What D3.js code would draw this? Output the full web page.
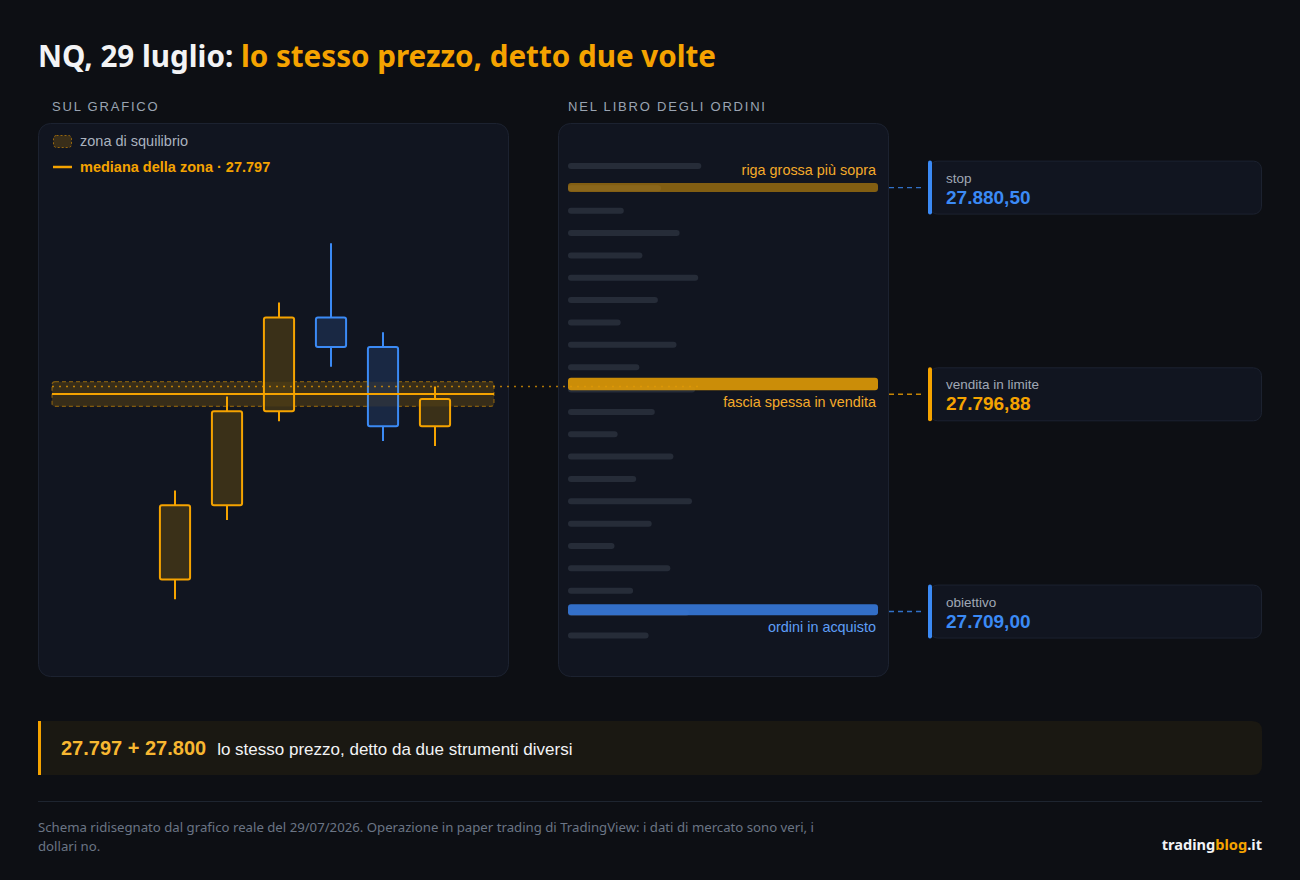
<!DOCTYPE html>
<html>
<head>
<meta charset="utf-8">
<script src="https://cdn.jsdelivr.net/npm/d3@7"></script>
<style>
  html, body { margin: 0; padding: 0; background: #0d0f14; }
  svg { display: block; }
</style>
</head>
<body>
<svg id="chart" width="1300" height="880"></svg>
<script>
// candles of the session (open, high, low, close)
var candleOpen  = [27722, 27752, 27790, 27828, 27816, 27784];
var candleHigh  = [27758, 27796, 27834, 27858, 27822, 27800];
var candleLow   = [27714, 27746, 27786, 27808, 27778, 27776];
var candleClose = [27752, 27790, 27828, 27816, 27784, 27795];
var candleColor = ["up", "up", "up", "down", "down", "up"];

// imbalance zone
var zoneLow = 27792, zoneHigh = 27802, zoneMedian = 27797;
var bookLevel = 27800;

// order book rows (lots), top to bottom
var bookSizes = [43, 30, 18, 36, 24, 42, 29, 17, 35, 23, 41, 28, 16, 34, 22, 40, 27, 15, 33, 21, 39, 26];

// big bands in the book
var bandLabels = ["riga grossa più sopra", "fascia spessa in vendita", "ordini in acquisto"];
var bandLow    = [27878.7, 27798.5, 27707.5];
var bandHigh   = [27882.4, 27803.6, 27712];
var bandKind   = ["stopband", "sell", "buy"];

// order cards
var cardLabels = ["stop", "vendita in limite", "obiettivo"];
var cardPrices = [27880.50, 27796.88, 27709.00];
var cardKind   = ["blue", "amber", "blue"];

var AMBER = "#f5a300", BLUE = "#3b8af5";

var svg = d3.select("#chart");
var W = 1300, H = 880;

svg.append("rect").attr("width", W).attr("height", H).attr("fill", "#0d0f14");

// shared price scale (chart and book are drawn on the same ladder)
var y = d3.scaleLinear().domain([27700, 27900]).range([633.8, 139.4]);

var itFmt = d3.formatLocale({decimal: ",", thousands: ".", grouping: [3], currency: ["", ""]});
var fmtInt = itFmt.format(",.0f"), fmtPrice = itFmt.format(",.2f");

// title
var title = svg.append("text").attr("x", 38).attr("y", 67)
    .style("font-family", "'Noto Sans', sans-serif").style("font-weight", 700).style("font-size", "29.6px");
title.append("tspan").attr("fill", "#f2f3f5").text("NQ, 29 luglio: ");
title.append("tspan").attr("fill", AMBER).text("lo stesso prezzo, detto due volte");

// section headings
function heading(x, t) {
  svg.append("text").attr("x", x).attr("y", 111)
    .attr("fill", "#9aa4b2").style("font-family", "'Liberation Sans', Arial, sans-serif")
    .style("font-size", "13px").style("letter-spacing", "1.8px").text(t);
}
heading(52, "SUL GRAFICO");
heading(568, "NEL LIBRO DEGLI ORDINI");

// panels
function panel(x, w) {
  svg.append("rect").attr("x", x + 0.5).attr("y", 123.5).attr("width", w).attr("height", 553)
    .attr("rx", 12).attr("fill", "#111520").attr("stroke", "#1c2230");
}
panel(38, 470);
panel(558, 330);

var sans = "'Liberation Sans', Arial, sans-serif";

// legend
svg.append("rect").attr("x", 53.5).attr("y", 135.5).attr("width", 18).attr("height", 12).attr("rx", 3)
  .attr("fill", AMBER).attr("fill-opacity", 0.18)
  .attr("stroke", AMBER).attr("stroke-opacity", 0.55).attr("stroke-dasharray", "2,2");
svg.append("text").attr("x", 80).attr("y", 146).attr("fill", "#aab2bf")
  .style("font-family", sans).style("font-size", "14.5px").text("zona di squilibrio");
svg.append("line").attr("x1", 53).attr("x2", 72).attr("y1", 167).attr("y2", 167)
  .attr("stroke", AMBER).attr("stroke-width", 2.5);
svg.append("text").attr("x", 80).attr("y", 172).attr("fill", AMBER)
  .style("font-family", sans).style("font-size", "14.5px").style("font-weight", 700)
  .text("mediana della zona · " + fmtInt(zoneMedian));

// candle x scale
var x = d3.scaleBand().domain(d3.range(candleOpen.length)).range([149, 461]).paddingInner(0.42).paddingOuter(0.21);

// zone
var zoneX0 = 52, zoneX1 = 494;
svg.append("rect").attr("x", zoneX0).attr("y", y(zoneHigh)).attr("width", zoneX1 - zoneX0)
  .attr("height", y(zoneLow) - y(zoneHigh)).attr("rx", 3)
  .attr("fill", AMBER).attr("fill-opacity", 0.1)
  .attr("stroke", AMBER).attr("stroke-opacity", 0.45).attr("stroke-width", 1.2).attr("stroke-dasharray", "4,3");

// candles
var cg = svg.append("g");
var candles = cg.selectAll("g").data(candleOpen).enter().append("g");
candles.append("line")
  .attr("x1", function(d, i) { return x(i) + x.bandwidth() / 2; })
  .attr("x2", function(d, i) { return x(i) + x.bandwidth() / 2; })
  .attr("y1", function(d, i) { return y(candleHigh[i]); })
  .attr("y2", function(d, i) { return y(candleLow[i]); })
  .attr("stroke", function(d, i) { return candleColor[i] === "up" ? AMBER : BLUE; })
  .attr("stroke-width", 2);
candles.append("rect")
  .attr("x", function(d, i) { return x(i); })
  .attr("width", x.bandwidth())
  .attr("y", function(d, i) { return y(Math.max(candleOpen[i], candleClose[i])); })
  .attr("height", function(d, i) { return Math.abs(y(candleOpen[i]) - y(candleClose[i])); })
  .attr("rx", 2)
  .attr("fill", function(d, i) { return candleColor[i] === "up" ? "#3a3018" : "#192843"; })
  .attr("stroke", function(d, i) { return candleColor[i] === "up" ? AMBER : BLUE; })
  .attr("stroke-width", 2);

// zone overlay drawn above the candles
svg.append("rect").attr("x", zoneX0).attr("y", y(zoneHigh)).attr("width", zoneX1 - zoneX0)
  .attr("height", y(zoneLow) - y(zoneHigh)).attr("rx", 3)
  .attr("fill", AMBER).attr("fill-opacity", 0.08);
svg.append("line").attr("x1", zoneX0).attr("x2", zoneX1).attr("y1", y(zoneMedian)).attr("y2", y(zoneMedian))
  .attr("stroke", AMBER).attr("stroke-width", 2);

// book
var bx = d3.scaleLinear().domain([0, 100]).range([568, 878]);
var rowY = d3.scaleLinear().domain([0, bookSizes.length - 1]).range([166, 635.4]);
svg.append("g").selectAll("rect").data(bookSizes).enter().append("rect")
  .attr("x", bx(0)).attr("width", function(d) { return bx(d) - bx(0); })
  .attr("y", function(d, i) { return rowY(i) - 3; }).attr("height", 6).attr("rx", 3)
  .attr("fill", "#262c38");

// dotted link from 27.800 on the chart to the book
svg.append("line").attr("x1", zoneX0).attr("x2", 700).attr("y1", y(bookLevel)).attr("y2", y(bookLevel))
  .attr("stroke", AMBER).attr("stroke-opacity", 0.7).attr("stroke-width", 1.5).attr("stroke-dasharray", "2,5");

var bandFill = {stopband: "#c88a0a", sell: "#e09a06", buy: "#3576d6"};
var bandOp = {stopband: 0.62, sell: 0.9, buy: 0.92};
svg.append("g").selectAll("rect").data(bandLabels).enter().append("rect")
  .attr("x", bx(0)).attr("width", bx(100) - bx(0))
  .attr("y", function(d, i) { return y(bandHigh[i]); })
  .attr("height", function(d, i) { return y(bandLow[i]) - y(bandHigh[i]); })
  .attr("rx", 3)
  .attr("fill", function(d, i) { return bandFill[bandKind[i]]; })
  .attr("fill-opacity", function(d, i) { return bandOp[bandKind[i]]; });

svg.append("g").selectAll("text").data(bandLabels).enter().append("text")
  .attr("x", 876)
  .attr("y", function(d, i) { return i === 0 ? y(bandHigh[i]) - 8 : y(bandLow[i]) + 17; })
  .attr("text-anchor", "end")
  .attr("fill", function(d, i) { return bandKind[i] === "buy" ? "#5e9ef7" : "#f5ab2a"; })
  .style("font-family", sans).style("font-size", "14.4px")
  .text(function(d) { return d; });

// cards
var cards = svg.append("g").selectAll("g").data(cardLabels).enter().append("g")
  .attr("transform", function(d, i) { return "translate(0," + y(cardPrices[i]) + ")"; });
cards.append("line").attr("x1", 889).attr("x2", 922).attr("y1", 0).attr("y2", 0)
  .attr("stroke", function(d, i) { return cardKind[i] === "blue" ? BLUE : AMBER; })
  .attr("stroke-opacity", 0.8).attr("stroke-width", 1.4).attr("stroke-dasharray", "5,4");
cards.append("rect").attr("x", 929.5).attr("y", -26.5).attr("width", 332).attr("height", 53).attr("rx", 8)
  .attr("fill", "#111520").attr("stroke", "#1c2230");
cards.append("rect").attr("x", 928).attr("y", -27).attr("width", 4).attr("height", 54).attr("rx", 2)
  .attr("fill", function(d, i) { return cardKind[i] === "blue" ? BLUE : AMBER; });
cards.append("text").attr("x", 946).attr("y", -5).attr("fill", "#a0a8b5")
  .style("font-family", sans).style("font-size", "13.5px").text(function(d) { return d; });
cards.append("text").attr("x", 946).attr("y", 16)
  .attr("fill", function(d, i) { return cardKind[i] === "blue" ? BLUE : AMBER; })
  .style("font-family", sans).style("font-size", "19px").style("font-weight", 700)
  .text(function(d, i) { return fmtPrice(cardPrices[i]); });

// banner
svg.append("path")
  .attr("d", "M38,721 H1252 Q1262,721 1262,731 V765 Q1262,775 1252,775 H38 Z")
  .attr("fill", "#1a1812");
svg.append("rect").attr("x", 38).attr("y", 721).attr("width", 3).attr("height", 54).attr("fill", AMBER);
var banner = svg.append("text").attr("x", 61).attr("y", 755).style("font-family", sans);
banner.append("tspan").attr("fill", "#f7b731").style("font-size", "20px").style("font-weight", 700)
  .text(fmtInt(zoneMedian) + " + " + fmtInt(bookLevel));
banner.append("tspan").attr("dx", 11).attr("fill", "#f2f3f5").style("font-size", "17px")
  .text("lo stesso prezzo, detto da due strumenti diversi");

// footer
svg.append("line").attr("x1", 38).attr("x2", 1262).attr("y1", 801.5).attr("y2", 801.5).attr("stroke", "#1e2530");
var foot = svg.append("text").attr("fill", "#6b7585")
  .style("font-family", "'Noto Sans', sans-serif").style("font-size", "13.2px");
foot.append("tspan").attr("x", 38).attr("y", 832)
  .text("Schema ridisegnato dal grafico reale del 29/07/2026. Operazione in paper trading di TradingView: i dati di mercato sono veri, i");
foot.append("tspan").attr("x", 38).attr("y", 851).text("dollari no.");

var brand = svg.append("text").attr("x", 1262).attr("y", 850).attr("text-anchor", "end")
  .style("font-family", "'Noto Sans', sans-serif").style("font-size", "14.6px").style("font-weight", 700);
brand.append("tspan").attr("fill", "#f2f3f5").text("trading");
brand.append("tspan").attr("fill", AMBER).text("blog");
brand.append("tspan").attr("fill", "#f2f3f5").text(".it");
</script>
</body>
</html>
